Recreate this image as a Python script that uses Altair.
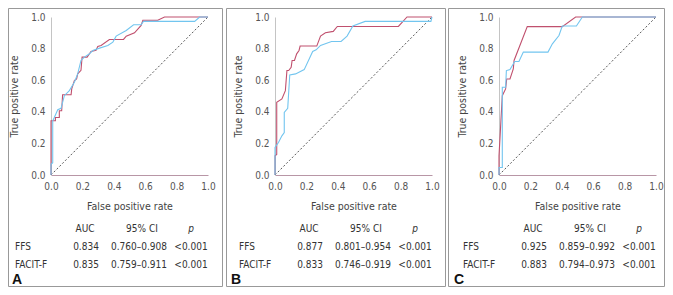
import altair as alt
import pandas as pd

FONT = "Liberation Sans Narrow, DejaVu Sans Condensed, Roboto, sans-serif"
RED = "#c0506e"
BLUE = "#72c5ef"

TICKS = [0.0, 0.2, 0.4, 0.6, 0.8, 1.0]
SERIES = ["FFS", "FACIT-F"]
HEADERS = ["AUC", "95% CI", "p"]
LETTERS = ["A", "B", "C"]

# Panel A
A_FFS_FPR = [0, 0, 0.028, 0.028, 0.053, 0.053, 0.068, 0.074, 0.128, 0.132, 0.149, 0.163, 0.17, 0.191, 0.198, 0.23, 0.255, 0.287, 0.298, 0.319, 0.372, 0.462, 0.479, 0.532, 0.574, 0.585, 0.68, 0.723, 1.0]
A_FFS_TPR = [0, 0.343, 0.343, 0.364, 0.364, 0.407, 0.407, 0.508, 0.508, 0.545, 0.597, 0.608, 0.64, 0.663, 0.746, 0.746, 0.782, 0.79, 0.814, 0.82, 0.858, 0.858, 0.879, 0.9, 0.947, 0.979, 0.979, 1.0, 1.0]
A_FAC_FPR = [0, 0, 0.011, 0.011, 0.021, 0.043, 0.064, 0.085, 0.117, 0.149, 0.17, 0.191, 0.213, 0.245, 0.266, 0.309, 0.362, 0.394, 0.415, 0.479, 0.526, 0.574, 0.589, 0.915, 0.947, 1.0]
A_FAC_TPR = [0, 0.068, 0.078, 0.343, 0.364, 0.413, 0.422, 0.502, 0.534, 0.587, 0.64, 0.725, 0.746, 0.767, 0.788, 0.803, 0.82, 0.841, 0.879, 0.915, 0.951, 0.951, 0.972, 0.972, 1.0, 1.0]
A_AUC = ["0.834", "0.835"]
A_CI = ["0.760–0.908", "0.759–0.911"]
A_P = ["<0.001", "<0.001"]

# Panel B
B_FFS_FPR = [0, 0, 0.011, 0.011, 0.044, 0.066, 0.076, 0.087, 0.103, 0.109, 0.124, 0.138, 0.153, 0.16, 0.266, 0.29, 0.321, 0.371, 0.397, 0.786, 0.841, 1.0]
B_FFS_TPR = [0, 0.121, 0.13, 0.46, 0.481, 0.534, 0.661, 0.661, 0.682, 0.725, 0.725, 0.767, 0.788, 0.816, 0.816, 0.879, 0.9, 0.909, 0.94, 0.94, 1.0, 1.0]
B_FAC_FPR = [0, 0, 0.022, 0.044, 0.059, 0.059, 0.081, 0.094, 0.131, 0.186, 0.24, 0.262, 0.29, 0.36, 0.421, 0.459, 0.496, 0.574, 0.993, 1.0]
B_FAC_TPR = [0, 0.174, 0.206, 0.248, 0.269, 0.396, 0.422, 0.633, 0.64, 0.667, 0.782, 0.792, 0.82, 0.845, 0.845, 0.879, 0.943, 0.972, 0.972, 1.0]
B_AUC = ["0.877", "0.833"]
B_CI = ["0.801–0.954", "0.746–0.919"]
B_P = ["<0.001", "<0.001"]

# Panel C
C_FFS_FPR = [0, 0, 0.021, 0.042, 0.049, 0.07, 0.091, 0.096, 0.18, 0.403, 0.488, 1.0]
C_FFS_TPR = [0, 0.12, 0.502, 0.545, 0.608, 0.608, 0.672, 0.725, 0.939, 0.939, 1.0, 1.0]
C_FAC_FPR = [0, 0, 0.021, 0.021, 0.042, 0.047, 0.07, 0.1, 0.127, 0.155, 0.312, 0.34, 0.382, 0.403, 0.493, 0.531, 1.0]
C_FAC_TPR = [0, 0.047, 0.047, 0.555, 0.555, 0.661, 0.667, 0.718, 0.718, 0.778, 0.778, 0.83, 0.883, 0.943, 0.943, 1.0, 1.0]
C_AUC = ["0.925", "0.883"]
C_CI = ["0.859–0.992", "0.794–0.973"]
C_P = ["<0.001", "<0.001"]

W, H = 157, 158


def roc_frame(ffs_fpr, ffs_tpr, fac_fpr, fac_tpr):
    rows = []
    for i, (x, y) in enumerate(zip(ffs_fpr, ffs_tpr)):
        rows.append({"fpr": x, "tpr": y, "series": "FFS", "i": i})
    for i, (x, y) in enumerate(zip(fac_fpr, fac_tpr)):
        rows.append({"fpr": x, "tpr": y, "series": "FACIT-F", "i": i})
    return pd.DataFrame(rows)


def panel(ffs_fpr, ffs_tpr, fac_fpr, fac_tpr, auc, ci, pv, letter, left, right, letter_x):
    df = roc_frame(ffs_fpr, ffs_tpr, fac_fpr, fac_tpr)
    xenc = alt.X("fpr:Q", scale=alt.Scale(domain=[0, 1], nice=False),
                 axis=alt.Axis(title="False positive rate", values=TICKS, format=".1f",
                               grid=False, ticks=False, labelFlush=False, labelPadding=6,
                               domainColor="#b896a6", labelColor="#555", labelFont=FONT,
                               labelFontSize=10, titleFont=FONT, titleFontSize=10.5,
                               titleFontWeight="normal", titleColor="#444",
                               titleY=31, titleBaseline="middle"))
    yenc = alt.Y("tpr:Q", scale=alt.Scale(domain=[0, 1], nice=False),
                 axis=alt.Axis(title="True positive rate", values=TICKS, format=".1f",
                               grid=False, ticks=False, labelFlush=False, labelPadding=6,
                               domainColor="#c4c4c4", labelColor="#555", labelFont=FONT,
                               labelFontSize=10, titleFont=FONT, titleFontSize=10.5,
                               titleFontWeight="normal", titleColor="#444",
                               titleX=-37, titleBaseline="middle"))
    diag = alt.Chart(pd.DataFrame({"fpr": [0.0, 1.0], "tpr": [0.0, 1.0]})).mark_line(
        color="#444", strokeDash=[2, 2], strokeWidth=0.9).encode(x=xenc, y=yenc)
    lines = alt.Chart(df).mark_line(strokeWidth=1.1).encode(
        x=xenc, y=yenc,
        color=alt.Color("series:N", scale=alt.Scale(domain=["FACIT-F", "FFS"], range=[BLUE, RED]), legend=None),
        order=alt.Order("i:Q"))
    plot = alt.layer(diag, lines)

    tdf = pd.DataFrame({"name": SERIES, "auc": auc, "ci": ci, "p": pv})
    yrow = alt.Y("name:N", scale=alt.Scale(domain=SERIES, range=[230, 248], padding=0), axis=None)

    def col(field, xpos, align):
        return alt.Chart(tdf).mark_text(align=align, baseline="middle", fontSize=10, font=FONT,
                                        color="#333").encode(x=alt.value(xpos), y=yrow, text=f"{field}:N")

    one = pd.DataFrame({"k": [0]})

    def head(txt, xpos, style="normal"):
        return alt.Chart(one).mark_text(align="center", baseline="middle", fontSize=10, font=FONT,
                                        color="#333", fontStyle=style).encode(
            x=alt.value(xpos), y=alt.value(212), text=alt.value(txt))

    border = alt.Chart(one).mark_rect(filled=False, stroke="#999999", strokeWidth=1).encode(
        x=alt.value(left), x2=alt.value(right), y=alt.value(-8.5), y2=alt.value(269.5))
    let = alt.Chart(one).mark_text(align="left", baseline="alphabetic", fontSize=14, fontWeight="bold",
                                   font="Liberation Sans, Arial, sans-serif", color="#111").encode(
        x=alt.value(letter_x), y=alt.value(267), text=alt.value(letter))

    return alt.layer(
        plot,
        col("name", -36, "left"), col("auc", 35, "center"), col("ci", 88, "center"), col("p", 140, "center"),
        head(HEADERS[0], 34), head(HEADERS[1], 91), head(HEADERS[2], 140, "italic"),
        border, let,
    ).resolve_scale(y="independent", x="independent").properties(width=W, height=H)


pa = panel(A_FFS_FPR, A_FFS_TPR, A_FAC_FPR, A_FAC_TPR, A_AUC, A_CI, A_P, LETTERS[0], -42.5, 171.5, -39)
pb = panel(B_FFS_FPR, B_FFS_TPR, B_FAC_FPR, B_FAC_TPR, B_AUC, B_CI, B_P, LETTERS[1], -48.5, 170.5, -44)
pc = panel(C_FFS_FPR, C_FFS_TPR, C_FAC_FPR, C_FAC_TPR, C_AUC, C_CI, C_P, LETTERS[2], -50.5, 165.5, -45)

chart = alt.hconcat(pa, pb, pc, spacing=67, bounds="flush").properties(padding=0).configure_view(strokeWidth=0)
chart.save("out.html", embed_options={"renderer": "svg", "actions": False})
